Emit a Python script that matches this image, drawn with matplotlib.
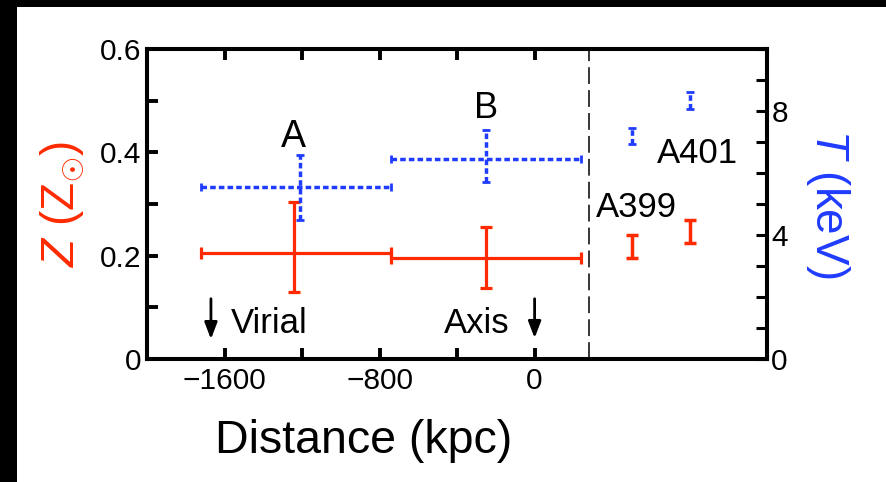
import matplotlib
matplotlib.use("Agg")
import matplotlib.pyplot as plt
from matplotlib.patches import Rectangle

plt.rcParams['font.family'] = ['Liberation Sans', 'DejaVu Sans']
plt.rcParams['mathtext.fontset'] = 'custom'
plt.rcParams['mathtext.rm'] = 'Liberation Sans'
plt.rcParams['mathtext.it'] = 'Liberation Sans:italic'

# offset regions A and B (metallicity, left axis)
region_x = [-1240, -250]
region_xlo = [480, 490]
region_xhi = [500, 490]
z_region = [0.205, 0.196]
z_region_lo = [0.075, 0.059]
z_region_hi = [0.099, 0.059]

# offset regions A and B (temperature, right axis)
t_region_x = [-1210, -250]
t_region_xlo = [510, 490]
t_region_xhi = [470, 490]
t_region = [5.55, 6.45]
t_region_lo = [1.07, 0.74]
t_region_hi = [1.03, 0.94]

# A399 / A401 cluster values
cluster_x = [500, 800]
z_cluster = [0.218, 0.247]
z_cluster_err = [0.022, 0.022]
t_cluster = [7.2, 8.33]
t_cluster_err = [0.25, 0.28]

xticks = [-1600, -1200, -800, -400, 0]
xlabels = ['\u22121600', '', '\u2212800', '', '0']
zticks = [0, 0.1, 0.2, 0.3, 0.4, 0.5, 0.6]
zlabels = ['0', '', '0.2', '', '0.4', '', '0.6']
tticks = [0, 1, 2, 3, 4, 5, 6, 7, 8, 9, 10]
tlabels = ['0', '', '', '', '4', '', '', '', '8', '', '']

red = '#ff2a00'
blue = '#1f3cff'

fig = plt.figure(figsize=(8.86, 4.82), dpi=100)
fig.patch.set_facecolor('white')
ax = fig.add_axes([0.1659, 0.2552, 0.70, 0.6431])
ax2 = ax.twinx()

# black border strips (left and top)
fig.patches.append(Rectangle((0, 0), 17 / 886, 1, transform=fig.transFigure,
                             facecolor='black', edgecolor='none', zorder=0))
fig.patches.append(Rectangle((0, 1 - 7 / 482), 1, 7 / 482, transform=fig.transFigure,
                             facecolor='black', edgecolor='none', zorder=0))

# red metallicity
ax.errorbar(region_x, z_region, xerr=[region_xlo, region_xhi], yerr=[z_region_lo, z_region_hi],
            fmt='none', ecolor=red, elinewidth=2.3, capsize=4, capthick=2.3, zorder=3)
ax.errorbar(cluster_x, z_cluster, yerr=z_cluster_err, fmt='none', ecolor=red,
            elinewidth=2.5, capsize=4, capthick=2.5, zorder=3)

# blue temperature (dotted)
eb = ax2.errorbar(t_region_x, t_region, xerr=[t_region_xlo, t_region_xhi], yerr=[t_region_lo, t_region_hi],
                  fmt='none', ecolor=blue, elinewidth=2.5, capsize=3, capthick=2.0, zorder=3)
for lc in eb[2]:
    lc.set_linestyle((0, (1.6, 0.9)))
eb2 = ax2.errorbar(cluster_x, t_cluster, yerr=t_cluster_err, fmt='none', ecolor=blue,
                   elinewidth=2.5, capsize=3, capthick=2.0, zorder=3)
for lc in eb2[2]:
    lc.set_linestyle((0, (1.6, 0.9)))

# separator
ax.axvline(280, color='black', lw=1.1, ls=(0, (11, 4)), zorder=2)

# arrows
arrow = dict(arrowstyle='-|>,head_length=1.0,head_width=0.38', color='black', lw=2.0)
ax.annotate('', xy=(-1670, 0.033), xytext=(-1670, 0.122), arrowprops=arrow)
ax.annotate('', xy=(0, 0.035), xytext=(0, 0.122), arrowprops=arrow)

# labels
ax.text(-1245, 0.41, 'A', fontsize=27, ha='center', va='baseline')
ax.text(-252, 0.466, 'B', fontsize=26, ha='center', va='baseline')
ax.text(633, 0.379, 'A401', fontsize=25, ha='left', va='baseline')
ax.text(314, 0.275, 'A399', fontsize=25, ha='left', va='baseline')
ax.text(-1569, 0.050, 'Virial', fontsize=25, ha='left', va='baseline')
ax.text(-468, 0.050, 'Axis', fontsize=25, ha='left', va='baseline')

ax.set_xlim(-2000, 1200)
ax.set_ylim(0, 0.6)
ax2.set_ylim(0, 10)

ax.set_xticks(xticks)
ax.set_xticklabels(xlabels)
ax.set_yticks(zticks)
ax.set_yticklabels(zlabels)
ax2.set_yticks(tticks)
ax2.set_yticklabels(tlabels)

ax.tick_params(axis='both', direction='in', length=8, width=2.8, labelsize=21.5, pad=6,
               top=True, right=False)
ax.tick_params(axis='y', pad=4)
ax2.tick_params(axis='y', direction='in', length=8, width=2.2, labelsize=21.5, pad=3)

for a in (ax, ax2):
    for s in a.spines.values():
        s.set_linewidth(2.9)

ax.set_xlabel('Distance (kpc)', fontsize=33.5)
ax.xaxis.set_label_coords(0.349, -0.195)
ax.set_ylabel(r'$Z$ (Z$_{\odot}$)', fontsize=33, color=red, labelpad=10)
ax2.set_ylabel(r'$T$ (keV)', fontsize=33, color=blue, rotation=270, labelpad=46)

fig.savefig('out.png', dpi=100)
